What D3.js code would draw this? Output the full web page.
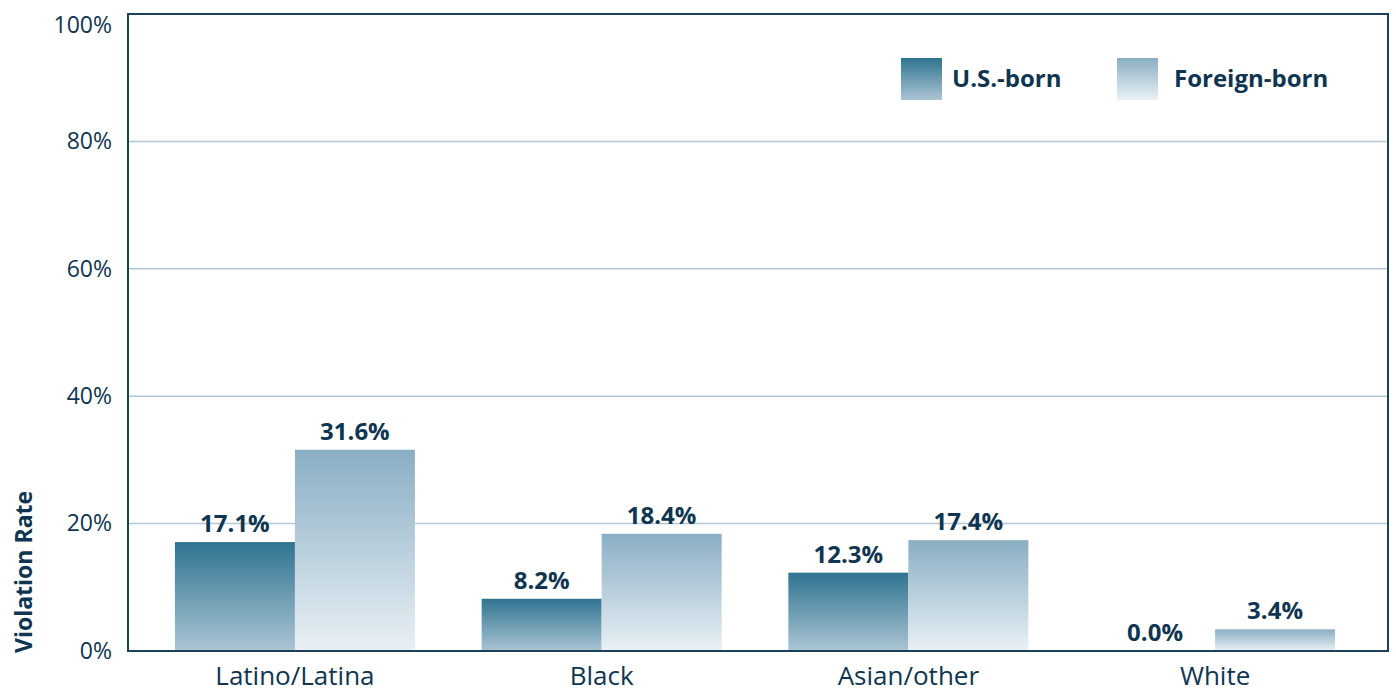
<!DOCTYPE html>
<html>
<head>
<meta charset="utf-8">
<script src="https://cdn.jsdelivr.net/npm/d3@7"></script>
<style>
  body { margin: 0; background: #fff; }
  svg text { font-family: "Open Sans", "Noto Sans", sans-serif; fill: #0f3550; }
</style>
</head>
<body>
<svg id="chart" width="1396" height="694"></svg>
<script>
// data
var categories = ["Latino/Latina", "Black", "Asian/other", "White"];
var seriesNames = ["U.S.-born", "Foreign-born"];
var usBorn = [17.1, 8.2, 12.3, 0.0];
var foreignBorn = [31.6, 18.4, 17.4, 3.4];
var yTicks = [0, 20, 40, 60, 80, 100];

var svg = d3.select("#chart");
// plot box edges (window.top is reserved, so own names)
var plotLeft = 128, plotRight = 1388, plotTop = 14, plotBottom = 651;

/* gradients, one per series, stretched over each bar */
var defs = svg.append("defs");
var grads = [["#2f7390", "#abc5d4"], ["#8aaec3", "#e9f1f6"]];
grads.forEach(function(c, i) {
  var g = defs.append("linearGradient").attr("id", "grad" + i)
    .attr("x1", 0).attr("y1", 0).attr("x2", 0).attr("y2", 1);
  g.append("stop").attr("offset", "0%").attr("stop-color", c[0]);
  g.append("stop").attr("offset", "100%").attr("stop-color", c[1]);
});

var y = d3.scaleLinear().domain([0, 100]).range([plotBottom, plotTop]);
// groups don't sit symmetric in the box, band range ends a bit short of the right edge
var x0 = d3.scaleBand().domain(categories).range([plotLeft, 1382])
  .paddingInner(0.2175).paddingOuter(0.153);
var x1 = d3.scaleBand().domain(seriesNames).range([0, x0.bandwidth()]);

// gridlines
svg.append("g").selectAll("line")
  .data(yTicks.filter(function(d) { return d > 0 && d < 100; }))
  .enter().append("line")
  .attr("x1", plotLeft).attr("x2", plotRight)
  .attr("y1", function(d) { return y(d); }).attr("y2", function(d) { return y(d); })
  .attr("stroke", "#b3c8d6").attr("stroke-width", 1.5);

// y axis labels
var yAxis = d3.axisLeft(y).tickValues(yTicks).tickSize(0).tickPadding(16)
  .tickFormat(function(d) { return d + "%"; });
svg.append("g").attr("transform", "translate(" + plotLeft + ",0)").call(yAxis)
  .call(function(g) { g.select(".domain").remove(); })
  .selectAll("text").style("font-size", "23px").attr("fill", "#0f3550")
  .attr("dy", function(d) { return d === 100 ? "0.8em" : "0.32em"; });

// bars
var rows = categories.map(function(c, i) {
  return { cat: c, vals: [usBorn[i], foreignBorn[i]] };
});
var groups = svg.append("g").selectAll("g").data(rows).enter().append("g")
  .attr("transform", function(d) { return "translate(" + x0(d.cat) + ",0)"; });

groups.selectAll("rect").data(function(d) { return d.vals; }).enter().append("rect")
  .attr("x", function(d, i) { return x1(seriesNames[i]); })
  .attr("width", x1.bandwidth())
  .attr("y", function(d) { return y(d); })
  .attr("height", function(d) { return plotBottom - y(d); })
  .attr("fill", function(d, i) { return "url(#grad" + i + ")"; });

groups.selectAll("text").data(function(d) { return d.vals; }).enter().append("text")
  .attr("x", function(d, i) { return x1(seriesNames[i]) + x1.bandwidth() / 2; })
  .attr("y", function(d) { return y(d) - 10; })
  .attr("text-anchor", "middle")
  .style("font-size", "24px").style("font-weight", "bold")
  .text(function(d) { return d.toFixed(1) + "%"; });

// frame
svg.append("rect").attr("x", plotLeft).attr("y", plotTop)
  .attr("width", plotRight - plotLeft).attr("height", plotBottom - plotTop)
  .attr("fill", "none").attr("stroke", "#1b4259").attr("stroke-width", 2);

// category labels
var xAxis = d3.axisBottom(x0).tickSize(0).tickPadding(16);
svg.append("g").attr("transform", "translate(0," + plotBottom + ")").call(xAxis)
  .call(function(g) { g.select(".domain").remove(); })
  .selectAll("text").style("font-size", "26px").attr("fill", "#0f3550");

// y title
svg.append("text")
  .attr("transform", "translate(32," + (plotBottom + 2) + ") rotate(-90)")
  .attr("text-anchor", "start")
  .style("font-size", "23px").style("font-weight", "bold")
  .text("Violation Rate");

// legend
var legendX = [901, 1117];
var legend = svg.append("g").selectAll("g").data(seriesNames).enter().append("g")
  .attr("transform", function(d, i) { return "translate(" + legendX[i] + ",58)"; });
legend.append("rect").attr("width", 41).attr("height", 42)
  .attr("fill", function(d, i) { return "url(#grad" + i + ")"; });
legend.append("text").attr("x", function(d, i) { return i === 0 ? 51 : 57; }).attr("y", 29)
  .style("font-size", "24px").style("font-weight", "bold")
  .text(function(d) { return d; });
</script>
</body>
</html>
